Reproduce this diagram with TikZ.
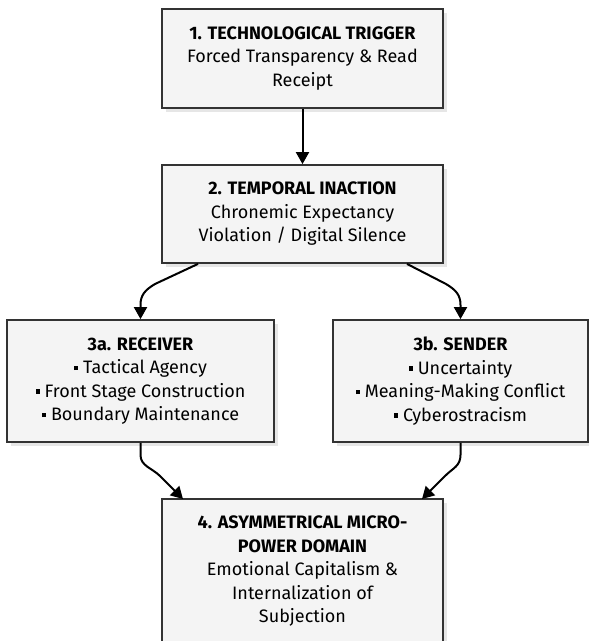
\documentclass[tikz,border=0pt]{standalone}
\usepackage{fontspec}
\setmainfont{Fira Sans}
\usetikzlibrary{arrows.meta,shadows}
\definecolor{boxfill}{HTML}{F4F4F4}
\definecolor{boxborder}{HTML}{333333}
\definecolor{shadowc}{HTML}{E6E6E6}
\newcommand{\bul}{\rule[0.2em]{0.24em}{0.24em}\ }
\begin{document}
\begin{tikzpicture}[x=1pt,y=-1pt,
  box/.style={draw=boxborder, line width=1.8pt, fill=boxfill, inner sep=0pt,
    align=center, font={\fontsize{18}{23.5}\selectfont},
    general shadow={fill=shadowc, shadow xshift=4pt, shadow yshift=-4pt}},
  conn/.style={line width=2pt, draw=black, -{Triangle[width=13pt,length=12pt]}}]
\useasboundingbox (0,0) rectangle (589,641);
\begin{scope}
\clip (0,0) rectangle (589,641);
\node[box, minimum width=281pt, minimum height=99pt] (b1) at (302.5,58.5)
  {\textbf{1. TECHNOLOGICAL TRIGGER}\\Forced Transparency \& Read\\Receipt};
\node[box, minimum width=281pt, minimum height=98pt] (b2) at (302.5,214)
  {\textbf{2. TEMPORAL INACTION}\\Chronemic Expectancy\\Violation / Digital Silence};
\node[box, minimum width=267pt, minimum height=122pt] (b3a) at (140.5,381)
  {\textbf{3a. RECEIVER}\\\bul Tactical Agency\\\bul Front Stage Construction\\\bul Boundary Maintenance};
\node[box, minimum width=255pt, minimum height=122pt] (b3b) at (460.5,381)
  {\textbf{3b. SENDER}\\\bul Uncertainty\\\bul Meaning-Making Conflict\\\bul Cyberostracism};
\node[box, minimum width=281pt, minimum height=145pt] (b4) at (302.5,571.5)
  {\textbf{4. ASYMMETRICAL MICRO-}\\\textbf{POWER DOMAIN}\\Emotional Capitalism \&\\Internalization of\\Subjection};
\end{scope}
\draw[conn] (b1.south) -- (b2.north);
\draw[conn] ([xshift=-104.5pt]b2.south) -- (155,284) .. controls (145,290) and (140.5,295) .. (140.5,305) -- (b3a.north);
\draw[conn] ([xshift=104.5pt]b2.south) -- (446,284) .. controls (456,290) and (460.5,295) .. (460.5,305) -- (b3b.north);
\coordinate (e4l) at (183,499);
\coordinate (e4r) at (422,499);
\draw[conn] (b3a.south) -- (140.5,455) .. controls (140.5,466) and (152,468) .. (160,476) -- (e4l);
\draw[conn] (b3b.south) -- (460.5,455) .. controls (460.5,466) and (453,468) .. (445,476) -- (e4r);
\end{tikzpicture}
\end{document}
